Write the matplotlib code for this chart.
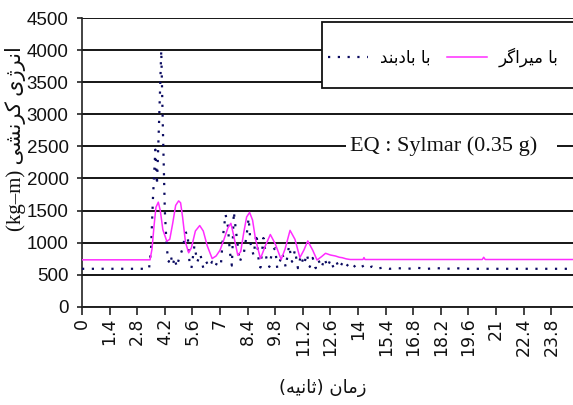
import matplotlib
matplotlib.use("Agg")
import matplotlib.pyplot as plt
from matplotlib.patches import Rectangle

# ---------------- data ----------------
brace_t = [0, 3.4, 3.5, 3.6, 3.72, 3.8, 3.9, 4.02, 4.1, 4.2, 4.3, 4.4, 4.5, 4.6, 4.7,
           4.8, 4.95, 5.1, 5.25, 5.35, 5.45, 5.55, 5.7, 5.85, 6.0, 6.15, 6.3, 6.45,
           6.6, 6.75, 6.9, 7.05, 7.15, 7.28, 7.4, 7.5, 7.6, 7.7, 7.8, 7.9, 8.0, 8.1,
           8.2, 8.35, 8.45, 8.55, 8.7, 8.85, 8.97, 9.05, 9.2, 9.35, 9.5, 9.65, 9.8,
           9.9, 10.05, 10.16, 10.33, 10.5, 10.65, 10.8, 10.95, 11.1, 11.25, 11.4,
           11.55, 11.7, 11.85, 12.0, 12.15, 12.3, 12.45, 12.6, 12.75, 12.9, 13.05,
           13.2, 13.35, 13.5, 13.7, 13.9, 14.1, 14.3, 14.5, 14.7, 14.9, 15.3, 15.6,
           16.0, 16.5, 17.0, 17.5, 18.0, 18.5, 19.0, 19.3, 24.9]
brace_v = [590, 590, 900, 1700, 2450, 1900, 2800, 4000, 2800, 1500, 900, 700, 800, 650, 760,
           620, 780, 900, 1150, 1160, 700, 600, 950, 700, 820, 600, 700, 620,
           700, 620, 720, 680, 1100, 1440, 1250, 850, 640, 1480, 1200, 950, 700, 780,
           820, 1120, 1380, 980, 800, 1140, 680, 610, 1070, 760, 620, 880, 910,
           600, 720, 830, 620, 950, 700, 880, 600, 800, 650, 820,
           620, 760, 600, 720, 610, 750, 620, 730, 610, 700, 600,
           680, 610, 660, 600, 650, 610, 640, 600, 625, 590, 610, 590,
           600, 590, 605, 590, 600, 590, 600, 590, 590]

damper_t = [0, 3.45, 3.55, 3.65, 3.75, 3.87, 3.97, 4.1, 4.3, 4.45, 4.6, 4.75, 4.9, 5.0,
            5.1, 5.25, 5.41, 5.55, 5.75, 5.97, 6.15, 6.35, 6.6, 6.8, 7.0, 7.2, 7.4,
            7.55, 7.7, 7.9, 8.05, 8.2, 8.35, 8.5, 8.65, 8.8, 9.05, 9.3, 9.55, 9.8,
            10.1, 10.3, 10.55, 10.8, 11.05, 11.25, 11.45, 11.7, 11.92, 12.15, 12.35,
            12.6, 12.85, 13.05, 13.2, 13.4, 13.6, 14.25, 14.3, 14.35, 20.3, 20.37,
            20.45, 24.9]
damper_v = [730, 730, 900, 1250, 1550, 1630, 1500, 1200, 1020, 1050, 1300, 1580, 1650, 1620,
            1400, 1000, 840, 920, 1180, 1265, 1180, 950, 750, 790, 880, 1050, 1230,
            1300, 1100, 800, 860, 1150, 1400, 1470, 1350, 1050, 750, 950, 1125, 980,
            735, 900, 1190, 1050, 765, 880, 1025, 880, 727, 780, 832,
            805, 790, 770, 763, 745, 735, 735, 765, 735, 735, 770,
            735, 735]

x_ticks = [0, 1.4, 2.8, 4.2, 5.6, 7, 8.4, 9.8, 11.2, 12.6, 14, 15.4, 16.8, 18.2,
           19.6, 21, 22.4, 23.8]
x_tick_labels = ["0", "1.4", "2.8", "4.2", "5.6", "7", "8.4", "9.8", "11.2", "12.6",
                 "14", "15.4", "16.8", "18.2", "19.6", "21", "22.4", "23.8"]
y_ticks = [0, 500, 1000, 1500, 2000, 2500, 3000, 3500, 4000, 4500]

label_brace = "با بادبند"
label_damper = "با میراگر"
x_label = "زمان (ثانیه)"
y_label_fa = "انرژی کرنشی"
y_label_unit = "(kg–m)"
eq_text = "EQ : Sylmar (0.35 g)"

# ------------- simple Persian shaping (visual order) -------------
FORMS = {
    'ب': ('\uFE8F', '\uFE90', '\uFE91', '\uFE92'),
    'ا': ('\uFE8D', '\uFE8E', None, None),
    'م': ('\uFEE1', '\uFEE2', '\uFEE3', '\uFEE4'),
    'ی': ('\uFBFC', '\uFBFD', '\uFBFE', '\uFBFF'),
    'ر': ('\uFEAD', '\uFEAE', None, None),
    'گ': ('\uFB92', '\uFB93', '\uFB94', '\uFB95'),
    'د': ('\uFEA9', '\uFEAA', None, None),
    'ن': ('\uFEE5', '\uFEE6', '\uFEE7', '\uFEE8'),
    'ز': ('\uFEAF', '\uFEB0', None, None),
    'ث': ('\uFE99', '\uFE9A', '\uFE9B', '\uFE9C'),
    'ه': ('\uFEE9', '\uFEEA', '\uFEEB', '\uFEEC'),
    'ژ': ('\uFB8A', '\uFB8B', None, None),
    'ک': ('\uFB8E', '\uFB8F', '\uFB90', '\uFB91'),
    'ش': ('\uFEB5', '\uFEB6', '\uFEB7', '\uFEB8'),
}


def rtl(s):
    out = []
    n = len(s)
    for i, c in enumerate(s):
        f = FORMS.get(c)
        if f is None:
            out.append(c)
            continue
        prev = s[i - 1] if i > 0 else None
        nxt = s[i + 1] if i < n - 1 else None
        pj = prev in FORMS and FORMS[prev][2] is not None
        nj = f[2] is not None and nxt in FORMS
        if pj and nj:
            g = f[3]
        elif pj:
            g = f[1]
        elif nj:
            g = f[2]
        else:
            g = f[0]
        out.append(g)
    swap = {'(': ')', ')': '('}
    return ''.join(swap.get(c, c) for c in out[::-1])


# ---------------- figure ----------------
W, H = 573, 405
fig = plt.figure(figsize=(W / 100, H / 100), dpi=100)
L, R, T, B = 82, 573, 18.3, 306.6
ax = fig.add_axes([L / W, 1 - B / H, (R - L) / W, (B - T) / H])
ax.set_xlim(0, 24.9)
ax.set_ylim(0, 4500)
ax.set_axisbelow(True)

ln_brace, = ax.plot(brace_t, brace_v, color="#0a0a60", lw=1.6,
                    linestyle=(0, (1, 3.4)), label=rtl(label_brace), zorder=3)
ln_damper, = ax.plot(damper_t, damper_v, color="#ff2cff", lw=1.1,
                     label=rtl(label_damper), zorder=4)

ax.set_yticks(y_ticks)
ax.set_xticks(x_ticks)
ax.set_xticklabels(x_tick_labels, rotation=90, family="DejaVu Sans", fontsize=12.5,
                   color="#111111")
ax.set_yticklabels([str(v) for v in y_ticks],
                   family=["Liberation Sans Narrow", "Liberation Sans"], fontsize=13.5,
                   color="#111111")
ax.tick_params(axis="x", direction="out", length=6, width=1.2, pad=2, color="#222222")
ax.tick_params(axis="y", direction="out", length=3.6, width=1.2, pad=6, color="#222222")

ax.yaxis.grid(True, color="#151515", lw=1.4)
for s in ("top", "right"):
    ax.spines[s].set_visible(False)
ax.spines["left"].set_linewidth(1.2)
ax.spines["bottom"].set_linewidth(1.4)
ax.spines["left"].set_color("#222222")
ax.spines["bottom"].set_color("#222222")

# axis labels
ax.set_xlabel(rtl(x_label), family="DejaVu Sans", fontsize=13, color="#111111",
              va="center")
ax.xaxis.set_label_coords((323 - L) / (R - L), (B - 388) / (B - T))
ax.set_ylabel(y_label_unit + " " + rtl(y_label_fa),
              family=["Liberation Serif", "DejaVu Sans"], fontsize=15, color="#111111",
              va="center")
ax.yaxis.set_label_coords((16 - L) / (R - L), (B - 139) / (B - T))

# earthquake annotation over a white gap in the 2500 gridline
ax.add_patch(Rectangle(((346 - L) / (R - L), 0.545), (557 - 346) / (R - L), 0.02,
                       transform=ax.transAxes, facecolor="white", edgecolor="none",
                       zorder=1))
ax.text((444 - L) / (R - L), (B - 146) / (B - T), eq_text, transform=ax.transAxes,
        ha="center", va="center", family="Liberation Serif", fontsize=16,
        color="#111111", zorder=5)

# legend box
fig.patches.append(Rectangle((322 / W, 1 - 88 / H), 0.5, (88 - 22) / H,
                             transform=fig.transFigure, facecolor="white",
                             edgecolor="#111111", lw=1.3, zorder=1))
fig.legend(handles=[ln_brace, ln_damper], ncol=2, loc="center left",
           bbox_to_anchor=(328 / W, 1 - 57 / H), frameon=False,
           prop={"family": "DejaVu Sans", "size": 12}, handlelength=2.4,
           handletextpad=0.7, columnspacing=1.0, borderpad=0, borderaxespad=0)

fig.savefig("out.png", dpi=100)
